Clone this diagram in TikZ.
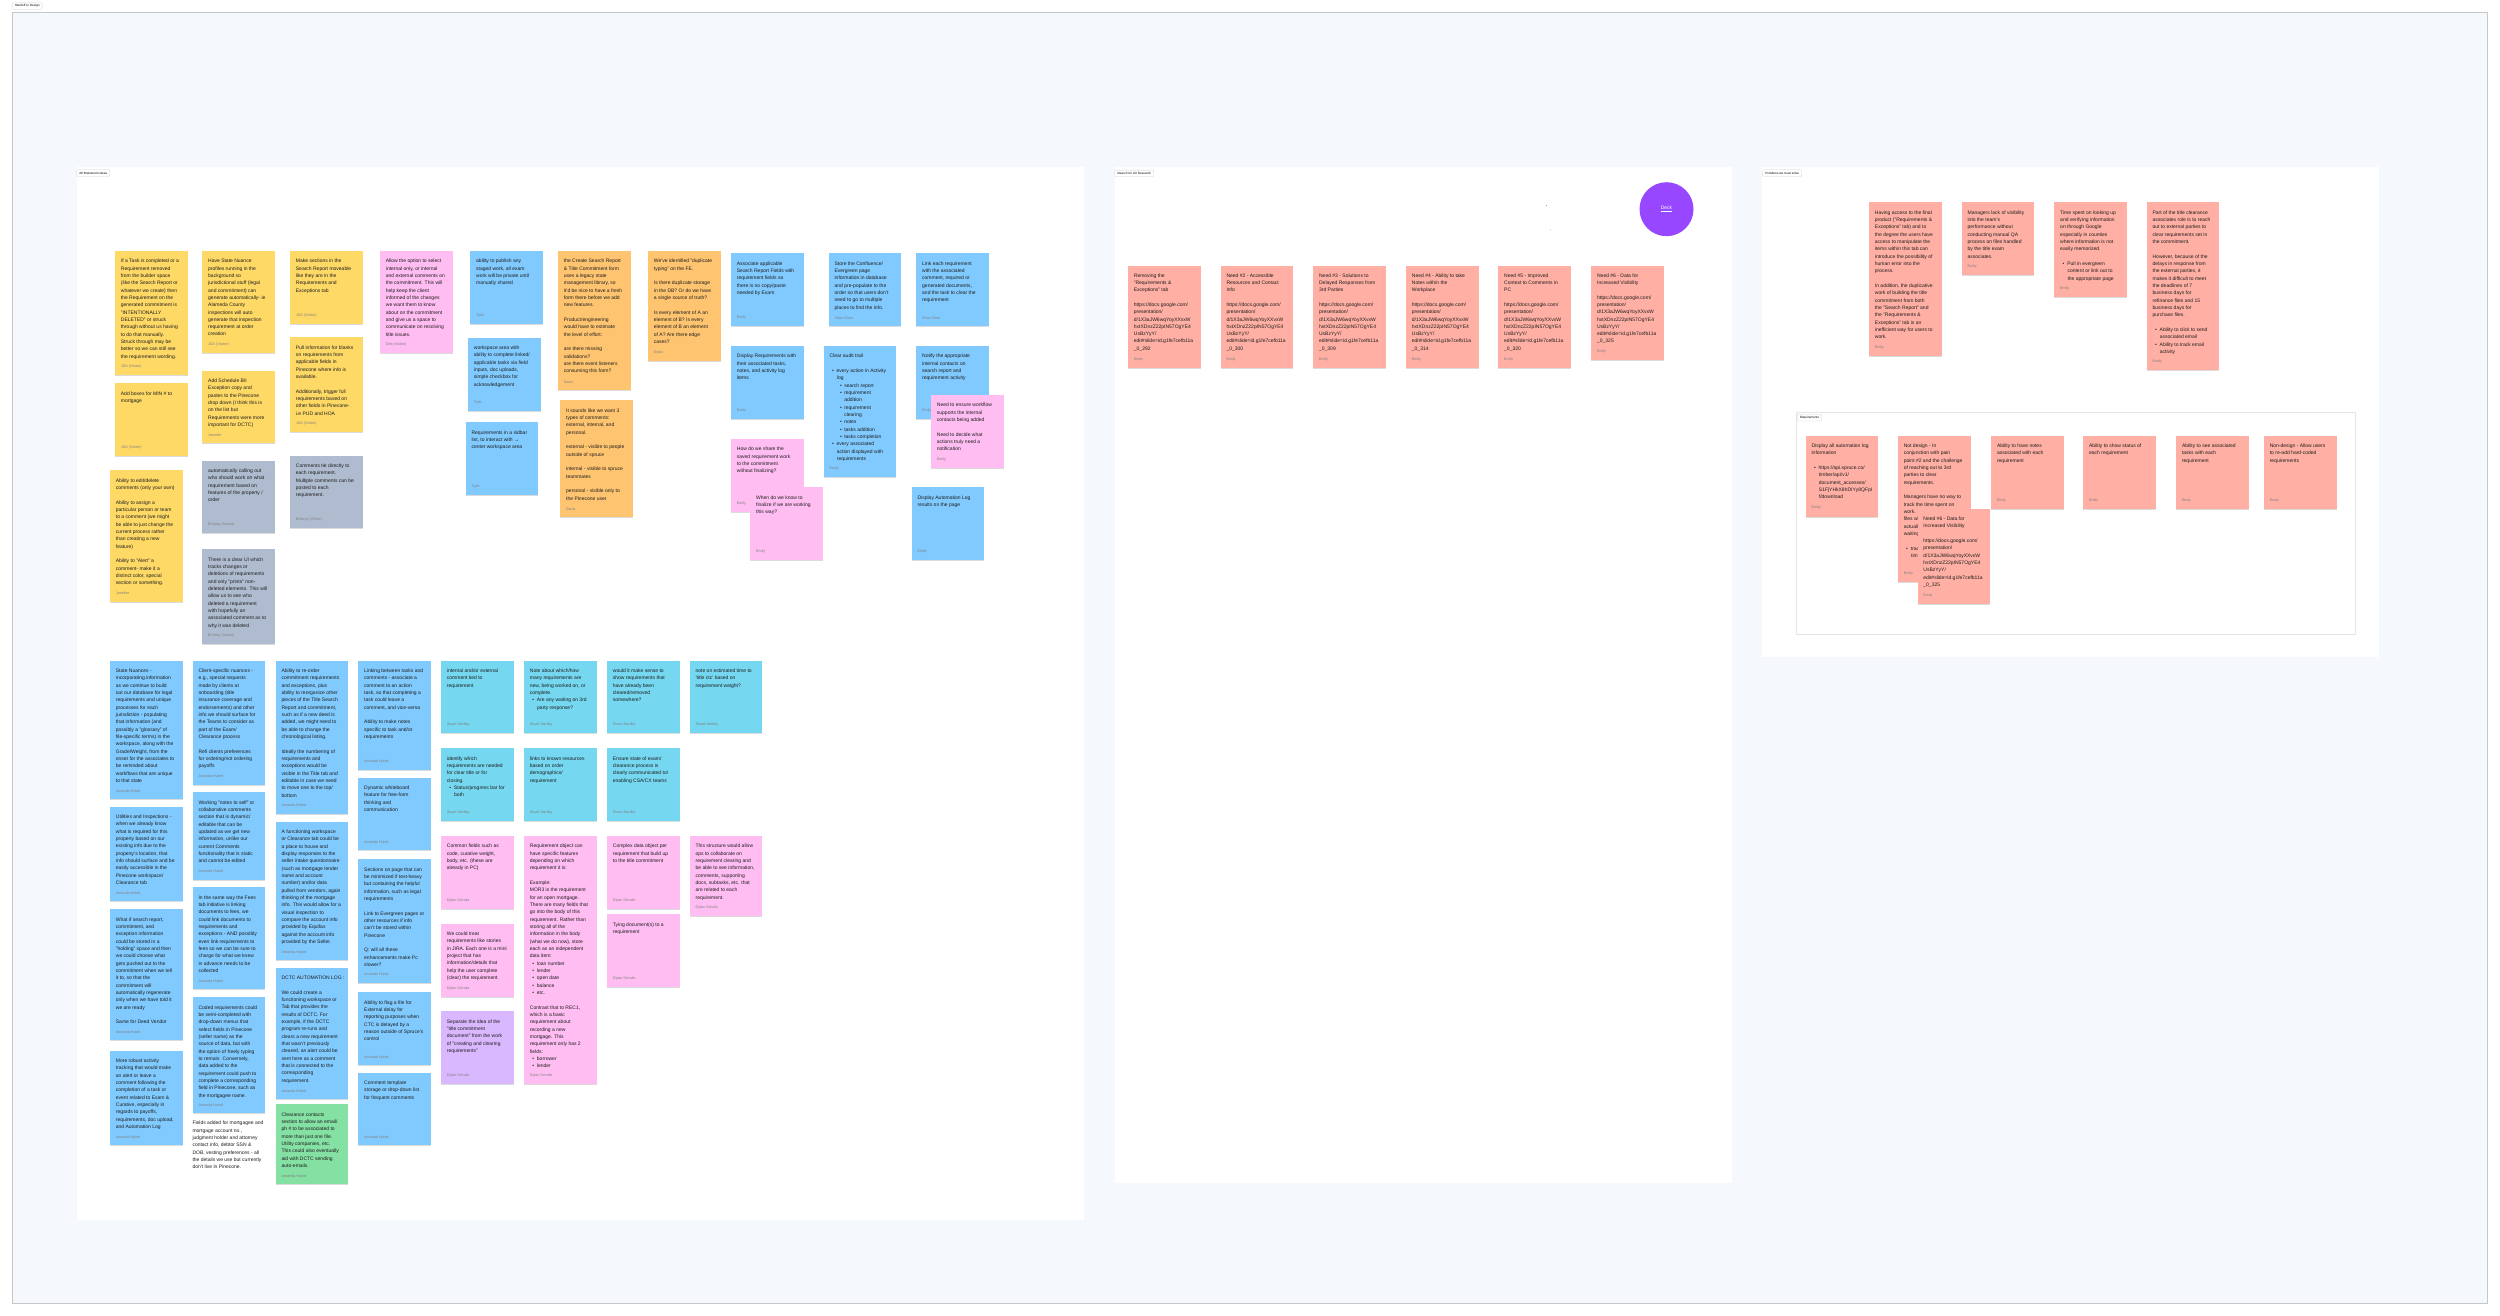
\documentclass[tikz,border=0pt]{standalone}
\usepackage{fontspec}
\setmainfont{Liberation Sans}
\usepackage{xcolor}
\usepackage{tikz}
\usetikzlibrary{shadows}

\definecolor{boardbg}{HTML}{F5F8FC}
\definecolor{noteyellow}{HTML}{FFD966}
\definecolor{noteorange}{HTML}{FFC470}
\definecolor{notepink}{HTML}{FFBDF2}
\definecolor{noteblue}{HTML}{80CAFF}
\definecolor{noteteal}{HTML}{75D7F0}
\definecolor{notegray}{HTML}{AFBCCF}
\definecolor{notegreen}{HTML}{85E0A3}
\definecolor{noteviolet}{HTML}{D9B8FF}
\definecolor{notered}{HTML}{FFAFA3}
\definecolor{deckviolet}{HTML}{9747FF}
\definecolor{ink}{HTML}{1E1E1E}

\newcommand\gap{\\[7.33pt]}
\newcommand\bul{\hspace*{2.4pt}\textbullet\hspace*{2.9pt}}
\newcommand\indl{\hspace*{7.3pt}}
\newcommand\subbul{\hspace*{10.6pt}\textbullet\hspace*{2.3pt}}
\newcommand\indll{\hspace*{14.7pt}}

\begin{document}
\begin{tikzpicture}[x=1pt,y=-1pt,
  note/.style={fill=#1, drop shadow={shadow xshift=0pt, shadow yshift=-0.8pt, fill=black, opacity=0.14}},
  txt/.style={anchor=north west, inner sep=0pt, align=left, text=ink, font=\fontsize{5}{7.33}\selectfont},
  who/.style={anchor=west, inner sep=0pt, text=black!50, font=\fontsize{3.7}{4.2}\selectfont},
  tag/.style={anchor=north west, draw=black!18, fill=white, rounded corners=0.8pt, line width=0.3pt,
    inner xsep=2.6pt, inner ysep=0pt, minimum height=6.6pt, font=\fontsize{3.1}{3.5}\selectfont}]
  \useasboundingbox (0,0) rectangle (2500,1316);
  \fill[white] (0,0) rectangle (2500,1316);

  \filldraw[fill=boardbg, draw=black!22, line width=0.6pt] (12.5,12.5) rectangle (2487,1303);
  \node[tag] (board) at (12,2.7) {Handoff to Design};

  \fill[white] (76.5,167) rectangle (1084,1220);
  \fill[white] (1114.5,167) rectangle (1731.5,1183);
  \fill[white] (1762,167) rectangle (2379,657);
  \node[tag] (brainstorm) at (76.7,169.7) {All Brainstorm Ideas};
  \node[tag] (uxresearch) at (1114.5,170) {Ideas from UX Research};
  \node[tag] (problems) at (1762.7,169.7) {Problems we must solve};

  \fill[note=noteyellow] (115,251) rectangle (187.7,375);
  \node[txt] (taskDel) at (120.7,259) {If a Task is completed or a\\
    Requirement removed\\ from the builder space\\ (like the Search Report or\\
    whatever we create) then\\ the Requirement on the\\ generated commitment is\\
    "INTENTIONALLY\\ DELETED" or struck\\ through without us having\\
    to do that manually.\\ Struck through may be\\ better so we can still see\\
    the requirement wording.};
  \node[who] (taskDel-by) at (120.7,366.7) {JDA (Visitor)};

  \fill[note=noteyellow] (115,383.3) rectangle (187.7,455.7);
  \node[txt] (minBox) at (120.7,391.3) {Add boxes for MIN \# to\\ mortgage};
  \node[who] (minBox-by) at (120.7,447.4) {JDA (Visitor)};

  \fill[note=noteyellow] (110,470.3) rectangle (182.7,601.7);
  \node[txt] (editCmt) at (115.7,478.3) {Ability to edit/delete\\
    comments (only your own)\gap Ability to assign a\\ particular person or team\\
    to a comment (we might\\ be able to just change the\\ current process rather\\
    than creating a new\\ feature)\gap Ability to "Alert" a\\ comment- make it a\\
    distinct color, special\\ section or something.};
  \node[who] (editCmt-by) at (115.7,593.4) {Jennifer};

  \fill[note=noteyellow] (202.3,251) rectangle (275,353.3);
  \node[txt] (stateProf) at (208,259) {Have State Nuance\\ profiles running in the\\
    background so\\ jurisdictional stuff (legal\\ and commitment) can\\
    generate automatically- ie\\ Alameda County\\ inspections will auto\\
    generate that inspection\\ requirement at order\\ creation};
  \node[who] (stateProf-by) at (208,345) {JDA (Visitor)};

  \fill[note=noteyellow] (202.3,370.7) rectangle (275,443.3);
  \node[txt] (bii) at (208,378.7) {Add Schedule BII\\ Exception copy and\\
    pastes to the Pinecone\\ drop down (I think this is\\ on the list but\\
    Requirements were more\\ important for DCTC)};
  \node[who] (bii-by) at (208,435) {Jennifer};

  \fill[note=notegray] (202.3,460.7) rectangle (275,533.3);
  \node[txt] (autoCall) at (208,468.7) {automatically calling out\\
    who should work on what\\ requirement based on\\ features of the property /\\ order};
  \node[who] (autoCall-by) at (208,525) {Brittany (Visitor)};

  \fill[note=notegray] (202.3,549.3) rectangle (275,644.3);
  \node[txt] (clearUI) at (208,557.3) {There is a clear UI which\\ tracks changes or\\
    deletions of requirements\\ and only "prints" non-\\ deleted elements. This will\\
    allow us to see who\\ deleted a requirement\\ with hopefully an\\
    associated comment as to\\ why it was deleted};
  \node[who] (clearUI-by) at (208,636) {Brittany (Visitor)};

  \fill[note=noteyellow] (290,251) rectangle (362.7,324);
  \node[txt] (moveSec) at (295.7,259) {Make sections in the\\ Search Report moveable\\
    like they are in the\\ Requirements and\\ Exceptions tab};
  \node[who] (moveSec-by) at (295.7,315.7) {JDA (Visitor)};

  \fill[note=noteyellow] (290,337.3) rectangle (362.7,432.3);
  \node[txt] (pullInfo) at (295.7,345.3) {Pull information for blanks\\
    on requirements from\\ applicable fields in\\ Pinecone where info is\\
    available.\gap Additionally, trigger full\\ requirements based on\\
    other fields in Pinecone-\\ i.e PUD and HOA};
  \node[who] (pullInfo-by) at (295.7,424) {JDA (Visitor)};

  \fill[note=notegray] (290,455.7) rectangle (362.7,528.3);
  \node[txt] (cmtTie) at (295.7,463.7) {Comments tie directly to\\ each requirement.\\
    Multiple comments can be\\ posted to each\\ requirement.};
  \node[who] (cmtTie-by) at (295.7,520) {Brittany (Visitor)};

  \fill[note=notepink] (380,251) rectangle (452.7,353.3);
  \node[txt] (optSel) at (385.7,259) {Allow the option to select\\
    internal only, or internal\\ and external comments on\\ the commitment. This will\\
    help keep the client\\ informed of the changes\\ we want them to know\\
    about on the commitment\\ and give us a space to\\ communicate on resolving\\
    title issues.};
  \node[who] (optSel-by) at (385.7,345) {Deb (Visitor)};

  \fill[note=noteblue] (470.3,251) rectangle (543,324);
  \node[txt] (publish) at (476,259) {ability to publish any\\ staged work, all exam\\
    work will be private until\\ manually shared};
  \node[who] (publish-by) at (476,315.7) {Tyler};

  \fill[note=noteblue] (468,337.7) rectangle (540.7,410.7);
  \node[txt] (wsArea) at (473.7,345.7) {workspace area with\\
    ability to complete linked/\\ applicable tasks via field\\ inputs, doc uploads,\\
    simple checkbox for\\ acknowledgement};
  \node[who] (wsArea-by) at (473.7,402.4) {Tyler};

  \fill[note=noteblue] (465.7,422.3) rectangle (538.3,495.3);
  \node[txt] (sidebar) at (471.4,430.3) {Requirements in a sidbar\\
    list, to interact with →\\ center workspace area};
  \node[who] (sidebar-by) at (471.4,487) {Tyler};

  \fill[note=noteorange] (558,251) rectangle (630.7,390);
  \node[txt] (legacyForm) at (563.7,259) {the Create Search Report\\
    \& Title Commitment form\\ uses a legacy state\\ management library, so\\
    it'd be nice to have a fresh\\ form there before we add\\ new features.\gap
    Product/engineering\\ would have to estimate\\ the level of effort:\gap
    are there missing\\ validations?\\ are there event listeners\\ consuming this form?};
  \node[who] (legacyForm-by) at (563.7,381.7) {Davis};

  \fill[note=noteorange] (560.3,400.3) rectangle (633,517);
  \node[txt] (cmtTypes) at (566,408.3) {It sounds like we want 3\\
    types of comments:\\ external, internal, and\\ personal.\gap
    external - visible to people\\ outside of spruce\gap
    internal - visible to spruce\\ teammates\gap
    personal - visible only to\\ the Pinecone user};
  \node[who] (cmtTypes-by) at (566,508.7) {Davis};

  \fill[note=noteorange] (648,251) rectangle (720.7,360.7);
  \node[txt] (dupType) at (653.7,259) {We've identified "duplicate\\
    typing" on the FE.\gap Is there duplicate storage\\ in the DB? Or do we have\\
    a single source of truth?\gap Is every element of A an\\ element of B? Is every\\
    element of B an element\\ of A? Are there edge\\ cases?};
  \node[who] (dupType-by) at (653.7,352.4) {Davis};

  \fill[note=noteblue] (731,253.3) rectangle (803.7,326.3);
  \node[txt] (assoc) at (736.7,261.3) {Associate applicable\\
    Search Report Fields with\\ requirement fields so\\ there is no copy/paste\\
    needed by Exam};
  \node[who] (assoc-by) at (736.7,318) {Emily};

  \fill[note=noteblue] (731,346) rectangle (803.7,419);
  \node[txt] (dispReq) at (736.7,354) {Display Requirements with\\
    their associated tasks,\\ notes, and activity log\\ items};
  \node[who] (dispReq-by) at (736.7,410.7) {Emily};

  \fill[note=notepink] (731,439) rectangle (803.7,511.7);
  \node[txt] (share) at (736.7,447) {How do we share the\\ saved requirement work\\
    to the commitment\\ without finalizing?};
  \node[who] (share-by) at (736.7,503.4) {Emily};

  \fill[note=notepink] (750.3,487.3) rectangle (823,560.3);
  \node[txt] (finalize) at (756,495.3) {When do we know to\\
    finalize if we are working\\ this way?};
  \node[who] (finalize-by) at (756,552) {Emily};

  \fill[note=noteblue] (828.7,253.3) rectangle (901.3,326.3);
  \node[txt] (confl) at (834.4,261.3) {Store the Confluence/\\ Evergreen page\\
    information in database\\ and pre-populate to the\\ order so that users don't\\
    need to go to multiple\\ places to find the info.};
  \node[who] (confl-by) at (834.4,318) {Sifan Chen};

  \fill[note=noteblue] (823.7,346) rectangle (896.3,477.3);
  \node[txt] (audit) at (829.4,354) {Clear audit trail\gap
    \bul every action in Activity\\ \indl log\\ \subbul search report\\
    \subbul requirement\\ \indll addition\\ \subbul requirement\\ \indll clearing\\
    \subbul notes\\ \subbul tasks addition\\ \subbul tasks completion\\
    \bul every associated\\ \indl action displayed with\\ \indl requirements};
  \node[who] (audit-by) at (829.4,469) {Emily};

  \fill[note=noteblue] (916.3,253.3) rectangle (989,326.3);
  \node[txt] (linkReq) at (922,261.3) {Link each requirement\\ with the associated\\
    comment, required or\\ generated documents,\\ and the task to clear the\\
    requirement};
  \node[who] (linkReq-by) at (922,318) {Sifan Chen};

  \fill[note=noteblue] (916.3,346) rectangle (989,419);
  \node[txt] (notify) at (922,354) {Notify the appropriate\\
    internal contacts on\\ search report and\\ requirement activity};
  \node[who] (notify-by) at (922,410.7) {Emily};

  \fill[note=notepink] (931,395) rectangle (1003.7,468);
  \node[txt] (ensure) at (936.7,403) {Need to ensure workflow\\
    supports the internal\\ contacts being added\gap Need to decide what\\
    actions truly need a\\ notification};
  \node[who] (ensure-by) at (936.7,459.7) {Emily};

  \fill[note=noteblue] (911.7,487.3) rectangle (984.3,560.3);
  \node[txt] (autoLog) at (917.4,495.3) {Display Automation Log\\ results on the page};
  \node[who] (autoLog-by) at (917.4,552) {Emily};

  \fill[note=noteblue] (110,660.7) rectangle (182.7,799);
  \node[txt] (stateNu) at (115.7,668.7) {State Nuances -\\
    incorporating information\\ as we continue to build\\ out our database for legal\\
    requirements and unique\\ processes for each\\ jurisdiction - populating\\
    that information (and\\ possibly a "glossary" of\\ file-specific terms) in the\\
    workspace, along with the\\ Grade/Weight, from the\\ onset for the associates to\\
    be reminded about\\ workflows that are unique\\ to that state};
  \node[who] (stateNu-by) at (115.7,790.7) {Amanda Hulett};

  \fill[note=noteblue] (110,806.7) rectangle (182.7,901.3);
  \node[txt] (utilities) at (115.7,814.7) {Utilities and Inspections -\\
    when we already know\\ what is required for this\\ property based on our\\
    existing info due to the\\ property's location, that\\ info should surface and be\\
    easily accessible in the\\ Pinecone workspace/\\ Clearance tab};
  \node[who] (utilities-by) at (115.7,893) {Amanda Hulett};

  \fill[note=noteblue] (110,909.3) rectangle (182.7,1040);
  \node[txt] (holding) at (115.7,917.3) {What if search report,\\
    commitment, and\\ exception information\\ could be stored in a\\
    "holding" space and then\\ we could choose what\\ gets pushed out to the\\
    commitment when we tell\\ it to, so that the\\ commitment will\\
    automatically regenerate\\ only when we have told it\\ we are ready\gap
    Same for Deed Vendor};
  \node[who] (holding-by) at (115.7,1031.7) {Amanda Hulett};

  \fill[note=noteblue] (110,1050.7) rectangle (182.7,1145);
  \node[txt] (robust) at (115.7,1058.7) {More robust activity\\
    tracking that would make\\ an alert or leave a\\ comment following the\\
    completion of a task or\\ event related to Exam \&\\ Curative, especially in\\
    regards to payoffs,\\ requirements, doc upload,\\ and Automation Log};
  \node[who] (robust-by) at (115.7,1136.7) {Amanda Hulett};

  \fill[note=noteblue] (192.7,660.7) rectangle (265.3,784.7);
  \node[txt] (clientNu) at (198.4,668.7) {Client-specific nuances -\\
    e.g., special requests\\ made by clients at\\ onboarding (title\\
    insurance coverage and\\ endorsements) and other\\ info we should surface for\\
    the Teams to consider as\\ part of the Exam/\\ Clearance process\gap
    Refi clients preferences\\ for ordering/not ordering\\ payoffs};
  \node[who] (clientNu-by) at (198.4,776.4) {Amanda Hulett};

  \fill[note=noteblue] (192.7,792.3) rectangle (265.3,879.7);
  \node[txt] (notesSelf) at (198.4,800.3) {Working "notes to self" or\\
    collaborative comments\\ section that is dynamic/\\ editable that can be\\
    updated as we get new\\ information, unlike our\\ current Comments\\
    functionality that is static\\ and cannot be edited};
  \node[who] (notesSelf-by) at (198.4,871.4) {Amanda Hulett};

  \fill[note=noteblue] (192.7,887.3) rectangle (265.3,989);
  \node[txt] (feesLink) at (198.4,895.3) {In the same way the Fees\\
    tab initiative is linking\\ documents to fees, we\\ could link documents to\\
    requirements and\\ exceptions - AND possibly\\ even link requirements to\\
    fees so we can be sure to\\ charge for what we knew\\ in advance needs to be\\
    collected};
  \node[who] (feesLink-by) at (198.4,980.7) {Amanda Hulett};

  \fill[note=noteblue] (192.7,997.3) rectangle (265.3,1113.3);
  \node[txt] (coded) at (198.4,1005.3) {Coded requirements could\\
    be semi-completed with\\ drop-down menus that\\ select fields in Pinecone\\
    (seller name) as the\\ source of data, but with\\ the option of freely typing\\
    to remain. Conversely,\\ data added to the\\ requirement could push to\\
    complete a corresponding\\ field in Pinecone, such as\\ the mortgagee name.};
  \node[who] (coded-by) at (198.4,1105) {Amanda Hulett};

  \node[txt] (fieldsAdded) at (192.3,1121) {Fields added for mortgagee and\\
    mortgage account no.,\\ judgment holder and attorney\\ contact info, debtor SSN \&\\
    DOB, vesting preferences - all\\ the details we use but currently\\
    don't live in Pinecone.};

  \fill[note=noteblue] (275.7,660.7) rectangle (348.3,813.7);
  \node[txt] (reorder) at (281.4,668.7) {Ability to re-order\\
    commitment requirements\\ and exceptions, plus\\ ability to reorganize other\\
    pieces of the Title Search\\ Report and commitment,\\ such as if a new deed is\\
    added, we might need to\\ be able to change the\\ chronological listing.\gap
    Ideally the numbering of\\ requirements and\\ exceptions would be\\
    visible in the Title tab and\\ editable in case we need\\ to move one to the top/\\
    bottom};
  \node[who] (reorder-by) at (281.4,805.4) {Amanda Hulett};

  \fill[note=noteblue] (275.7,821.7) rectangle (348.3,960);
  \node[txt] (clearTab) at (281.4,829.7) {A functioning workspace\\
    or Clearance tab could be\\ a place to house and\\ display responses to the\\
    seller intake questionnaire\\ (such as mortgage lender\\ name and account\\
    number) and/or data\\ pulled from vendors, again\\ thinking of the mortgage\\
    info. This would allow for a\\ visual inspection to\\ compare the account info\\
    provided by Equifax\\ against the account info\\ provided by the Seller.};
  \node[who] (clearTab-by) at (281.4,951.7) {Amanda Hulett};

  \fill[note=noteblue] (275.7,967.7) rectangle (348.3,1099);
  \node[txt] (dctc) at (281.4,975.7) {DCTC AUTOMATION LOG :\gap
    We could create a\\ functioning workspace or\\ Tab that provides the\\
    results of DCTC. For\\ example, if the DCTC\\ program re-runs and\\
    clears a new requirement\\ that wasn't previously\\ cleared, an alert could be\\
    sent here as a comment\\ that is connected to the\\ corresponding\\ requirement.};
  \node[who] (dctc-by) at (281.4,1090.7) {Amanda Hulett};

  \fill[note=notegreen] (275.7,1104.3) rectangle (348.3,1184);
  \node[txt] (contacts) at (281.4,1112.3) {Clearance contacts\\
    section to allow an email/\\ ph \# to be associated to\\ more than just one file.\\
    Utility companies, etc.\\ This could also eventually\\ aid with DCTC sending\\
    auto-emails.};
  \node[who] (contacts-by) at (281.4,1175.7) {Amanda Hulett};

  \fill[note=noteblue] (358.3,660.7) rectangle (431,769.7);
  \node[txt] (linking) at (364,668.7) {Linking between tasks and\\
    comments - associate a\\ comment to an action\\ task, so that completing a\\
    task could leave a\\ comment, and vice-versa\gap Ability to make notes\\
    specific to task and/or\\ requirements};
  \node[who] (linking-by) at (364,761.4) {Amanda Hulett};

  \fill[note=noteblue] (358.3,777.7) rectangle (431,850.3);
  \node[txt] (whiteboard) at (364,785.7) {Dynamic whiteboard\\
    feature for free-form\\ thinking and\\ communication};
  \node[who] (whiteboard-by) at (364,842) {Amanda Hulett};

  \fill[note=noteblue] (358.3,859.3) rectangle (431,982.7);
  \node[txt] (sections) at (364,867.3) {Sections on page that can\\
    be minimized if text-heavy\\ but containing the helpful\\
    information, such as legal\\ requirements\gap Link to Evergreen pages or\\
    other resources if info\\ can't be stored within\\ Pinecone\gap
    Q: will all these\\ enhancements make Pc\\ slower?};
  \node[who] (sections-by) at (364,974.4) {Amanda Hulett};

  \fill[note=noteblue] (358.3,992.3) rectangle (431,1065);
  \node[txt] (flag) at (364,1000.3) {Ability to flag a file for\\
    External delay for\\ reporting purposes when\\ CTC is delayed by a\\
    reason outside of Spruce's\\ control};
  \node[who] (flag-by) at (364,1056.7) {Amanda Hulett};

  \fill[note=noteblue] (358.3,1072.7) rectangle (431,1145);
  \node[txt] (template) at (364,1080.7) {Comment template\\
    storage or drop-down list\\ for frequent comments};
  \node[who] (template-by) at (364,1136.7) {Amanda Hulett};

  \fill[note=noteteal] (441,660.7) rectangle (513.7,733.3);
  \node[txt] (intExt) at (446.7,668.7) {internal and/or external\\
    comment tied to\\ requirement};
  \node[who] (intExt-by) at (446.7,725) {Stuart Hartley};

  \fill[note=noteteal] (441,748.3) rectangle (513.7,821);
  \node[txt] (identify) at (446.7,756.3) {identify which\\
    requirements are needed\\ for clear title or for\\ closing.\\
    \bul Status/progress bar for\\ \indl both};
  \node[who] (identify-by) at (446.7,812.7) {Stuart Hartley};

  \fill[note=notepink] (441,836) rectangle (513.7,908.7);
  \node[txt] (common) at (446.7,844) {Common fields such as\\
    code, curative weight,\\ body, etc. (these are\\ already in PC)};
  \node[who] (common-by) at (446.7,900.4) {Dylan Schultz};

  \fill[note=notepink] (441,923.7) rectangle (513.7,996.7);
  \node[txt] (jira) at (446.7,931.7) {We could treat\\
    requirements like stories\\ in JIRA. Each one is a mini\\ project that has\\
    information/details that\\ help the user complete\\ (clear) the requirement.};
  \node[who] (jira-by) at (446.7,988.4) {Dylan Schultz};

  \fill[note=noteviolet] (441,1011.3) rectangle (513.7,1084.3);
  \node[txt] (separate) at (446.7,1019.3) {Separate the idea of the\\
    "title commitment\\ document" from the work\\ of "creating and clearing\\
    requirements"};
  \node[who] (separate-by) at (446.7,1076) {Dylan Schultz};

  \fill[note=noteteal] (524,660.7) rectangle (596.7,733.3);
  \node[txt] (noteWhich) at (529.7,668.7) {Note about which/how\\
    many requirements are\\ new, being worked on, or\\ complete.\\
    \bul Are any waiting on 3rd\\ \indl party response?};
  \node[who] (noteWhich-by) at (529.7,725) {Stuart Hartley};

  \fill[note=noteteal] (524,748.3) rectangle (596.7,821);
  \node[txt] (links) at (529.7,756.3) {links to known resources\\
    based on order\\ demographics/\\ requirement};
  \node[who] (links-by) at (529.7,812.7) {Stuart Hartley};

  \fill[note=notepink] (524,836) rectangle (596.7,1084.3);
  \node[txt] (reqObj) at (529.7,844) {Requirement object can\\
    have specific features\\ depending on which\\ requirement it is:\gap
    Example:\\ MOR3 is the requirement\\ for an open mortgage.\\
    There are many fields that\\ go into the body of this\\ requirement. Rather than\\
    storing all of the\\ information in the body\\ (what we do now), store\\
    each as an independent\\ data item:\\ \bul loan number\\ \bul lender\\
    \bul open date\\ \bul balance\\ \bul etc.\gap Contrast that to REC1,\\
    which is a basic\\ requirement about\\ recording a new\\ mortgage. This\\
    requirement only has 2\\ fields:\\ \bul borrower\\ \bul lender};
  \node[who] (reqObj-by) at (529.7,1076) {Dylan Schultz};

  \fill[note=noteteal] (607,660.7) rectangle (679.7,733.3);
  \node[txt] (senseShow) at (612.7,668.7) {would it make sense to\\
    show requirements that\\ have already been\\ cleared/removed\\ somewhere?};
  \node[who] (senseShow-by) at (612.7,725) {Stuart Hartley};

  \fill[note=noteteal] (607,748.3) rectangle (679.7,821);
  \node[txt] (ensureState) at (612.7,756.3) {Ensure state of exam/\\
    clearance process is\\ clearly communicated to/\\ enabling CSA/CX teams};
  \node[who] (ensureState-by) at (612.7,812.7) {Stuart Hartley};

  \fill[note=notepink] (607,836) rectangle (679.7,908.7);
  \node[txt] (complex) at (612.7,844) {Complex data object per\\
    requirement that build up\\ to the title commitment};
  \node[who] (complex-by) at (612.7,900.4) {Dylan Schultz};

  \fill[note=notepink] (607,914.3) rectangle (679.7,986.7);
  \node[txt] (tying) at (612.7,922.3) {Tying document(s) to a\\ requirement};
  \node[who] (tying-by) at (612.7,978.4) {Dylan Schultz};

  \fill[note=noteteal] (689.7,660.7) rectangle (762.3,733.3);
  \node[txt] (estTime) at (695.4,668.7) {note on estimated time to\\
    'title ctc' based on\\ requirement weight?};
  \node[who] (estTime-by) at (695.4,725) {Stuart Hartley};

  \fill[note=notepink] (689.7,836) rectangle (762.3,916.3);
  \node[txt] (structure) at (695.4,844) {This structure would allow\\
    ops to collaborate on\\ requirement clearing and\\ be able to see information,\\
    comments, supporting\\ docs, subtasks, etc. that\\ are related to each\\
    requirement.};
  \node[who] (structure-by) at (695.4,908) {Dylan Schultz};

  \node[circle, fill=deckviolet, minimum size=54pt, inner sep=0pt, text=white,
    font=\fontsize{5}{6}\selectfont] (deck) at (1666.5,209.2) {\underline{Deck}};
  \fill[black!55] (1546.4,205.7) circle (0.5);
  \fill[black!55] (1550.2,230) circle (0.4);

  \fill[note=notered] (1128,265.7) rectangle (1200.7,367.7);
  \node[txt] (need1) at (1133.7,273.2) {Removing the\\ "Requirements \&\\
    Exceptions" tab\gap https://docs.google.com/\\ presentation/\\
    d/1X3aJW6wqYoyXXvxW\\ hxtXDnzZ22pIN57OgYE4\\ UsBzYyY/\\
    edit\#slide=id.g1fe7cefb11a\\ \_0\_292};
  \node[who] (need1-by) at (1133.7,359.3) {Emily};

  \fill[note=notered] (1220.6,265.7) rectangle (1293.3,367.7);
  \node[txt] (need2) at (1226.3,273.2) {Need \#2 - Accessible\\
    Resources and Contact\\ Info\gap https://docs.google.com/\\ presentation/\\
    d/1X3aJW6wqYoyXXvxW\\ hxtXDnzZ22pIN57OgYE4\\ UsBzYyY/\\
    edit\#slide=id.g1fe7cefb11a\\ \_0\_300};
  \node[who] (need2-by) at (1226.3,359.3) {Emily};

  \fill[note=notered] (1313.2,265.7) rectangle (1385.9,367.7);
  \node[txt] (need3) at (1318.9,273.2) {Need \#3 - Solutions to\\
    Delayed Responses from\\ 3rd Parties\gap https://docs.google.com/\\ presentation/\\
    d/1X3aJW6wqYoyXXvxW\\ hxtXDnzZ22pIN57OgYE4\\ UsBzYyY/\\
    edit\#slide=id.g1fe7cefb11a\\ \_0\_309};
  \node[who] (need3-by) at (1318.9,359.3) {Emily};

  \fill[note=notered] (1406,265.7) rectangle (1478.7,367.7);
  \node[txt] (need4) at (1411.7,273.2) {Need \#4 - Ability to take\\
    Notes within the\\ Workplace\gap https://docs.google.com/\\ presentation/\\
    d/1X3aJW6wqYoyXXvxW\\ hxtXDnzZ22pIN57OgYE4\\ UsBzYyY/\\
    edit\#slide=id.g1fe7cefb11a\\ \_0\_314};
  \node[who] (need4-by) at (1411.7,359.3) {Emily};

  \fill[note=notered] (1498.3,265.7) rectangle (1571,367.7);
  \node[txt] (need5) at (1504,273.2) {Need \#5 - Improved\\
    Context to Comments in\\ PC\gap https://docs.google.com/\\ presentation/\\
    d/1X3aJW6wqYoyXXvxW\\ hxtXDnzZ22pIN57OgYE4\\ UsBzYyY/\\
    edit\#slide=id.g1fe7cefb11a\\ \_0\_320};
  \node[who] (need5-by) at (1504,359.3) {Emily};

  \fill[note=notered] (1591.2,265.7) rectangle (1663.9,360.3);
  \node[txt] (need6) at (1596.9,273.2) {Need \#6 - Data for\\
    Increased Visibility\gap https://docs.google.com/\\ presentation/\\
    d/1X3aJW6wqYoyXXvxW\\ hxtXDnzZ22pIN57OgYE4\\ UsBzYyY/\\
    edit\#slide=id.g1fe7cefb11a\\ \_0\_325};
  \node[who] (need6-by) at (1596.9,352) {Emily};

  \fill[note=notered] (1869,202.3) rectangle (1941.7,355.7);
  \node[txt] (probAccess) at (1874.7,210.3) {Having access to the final\\
    product ("Requirements \&\\ Exceptions" tab) and to\\ the degree the users have\\
    access to manipulate the\\ items within this tab can\\ introduce the possibility of\\
    human error into the\\ process.\gap In addition, the duplicative\\
    work of building the title\\ commitment from both\\ the "Search Report" and\\
    the "Requirements \&\\ Exceptions" tab is an\\ inefficient way for users to\\ work.};
  \node[who] (probAccess-by) at (1874.7,347.4) {Emily};

  \fill[note=notered] (1961.7,202.3) rectangle (2034.4,275);
  \node[txt] (probMgr) at (1967.4,210.3) {Managers lack of visibility\\
    into the team's\\ performance without\\ conducting manual QA\\
    process on files handled\\ by the title exam\\ associates.};
  \node[who] (probMgr-by) at (1967.4,266.7) {Emily};

  \fill[note=notered] (2054.3,202.3) rectangle (2127,297);
  \node[txt] (probTime) at (2060,210.3) {Time spent on looking up\\
    and verifying information\\ on through Google\\ especially in counties\\
    where information is not\\ easily memorized.\gap \bul Pull in evergreen\\
    \indl content or link out to\\ \indl the appropriate page};
  \node[who] (probTime-by) at (2060,288.7) {Emily};

  \fill[note=notered] (2146.7,202.3) rectangle (2219.4,370.3);
  \node[txt] (probClear) at (2152.4,210.3) {Part of the title clearance\\
    associates role is to reach\\ out to external parties to\\ clear requirements set in\\
    the commitment.\gap However, because of the\\ delays in response from\\
    the external parties, it\\ makes it difficult to meet\\ the deadlines of 7\\
    business days for\\ refinance files and 15\\ business days for\\ purchase files.\gap
    \bul Ability to click to send\\ \indl associated email\\
    \bul Ability to track email\\ \indl activity};
  \node[who] (probClear-by) at (2152.4,362) {Emily};

  \filldraw[fill=white, draw=black!10, line width=0.4pt] (1796,411.7) rectangle (2355,634.6);
  \node[tag] (requirements) at (1797,414.3) {Requirements};

  \fill[note=notered] (1805.7,436.3) rectangle (1878.4,516.7);
  \node[txt] (reqLog) at (1811.4,443.8) {Display all automation log\\
    information\gap \bul https://api.spruce.co/\\ \indl timber/api/v1/\\
    \indl document\_accesses/\\ \indl S1FjYHkX8hDIYy8QFpI\\ \indl f/download};
  \node[who] (reqLog-by) at (1811.4,508) {Emily};

  \fill[note=notered] (1897.9,436.3) rectangle (1970.6,582);
  \node[txt] (reqNotDesign) at (1903.6,443.8) {Not design - In\\
    conjunction with pain\\ point \#2 and the challenge\\ of reaching out to 3rd\\
    parties to clear\\ requirements.\gap Managers have no way to\\
    track the time spent on\\ work. It is hard to see\\ files where time was\\
    actually spent versus\\ waiting on others.\gap \bul track the time\\
    \indl time waiting};
  \node[who] (reqNotDesign-by) at (1903.6,574) {Emily};

  \fill[note=notered] (1917.5,509.3) rectangle (1990.2,604);
  \node[txt] (reqNeed6) at (1923.2,516.8) {Need \#6 - Data for\\
    Increased Visibility\gap https://docs.google.com/\\ presentation/\\
    d/1X3aJW6wqYoyXXvxW\\ hxtXDnzZ22pIN57OgYE4\\ UsBzYyY/\\
    edit\#slide=id.g1fe7cefb11a\\ \_0\_325};
  \node[who] (reqNeed6-by) at (1923.2,595.7) {Emily};

  \fill[note=notered] (1991.1,436.3) rectangle (2063.8,509.3);
  \node[txt] (reqNotes) at (1996.8,443.8) {Ability to have notes\\
    associated with each\\ requirement};
  \node[who] (reqNotes-by) at (1996.8,500.7) {Emily};

  \fill[note=notered] (2083.2,436.3) rectangle (2155.9,509.3);
  \node[txt] (reqStatus) at (2088.9,443.8) {Ability to show status of\\ each requirement};
  \node[who] (reqStatus-by) at (2088.9,500.7) {Emily};

  \fill[note=notered] (2176.1,436.3) rectangle (2248.8,509.3);
  \node[txt] (reqTasks) at (2181.8,443.8) {Ability to see associated\\
    tasks with each\\ requirement};
  \node[who] (reqTasks-by) at (2181.8,500.7) {Emily};

  \fill[note=notered] (2263.9,436.3) rectangle (2336.6,509.3);
  \node[txt] (reqReadd) at (2269.6,443.8) {Non-design - Allow users\\
    to re-add hard-coded\\ requirements};
  \node[who] (reqReadd-by) at (2269.6,500.7) {Emily};
\end{tikzpicture}
\end{document}
